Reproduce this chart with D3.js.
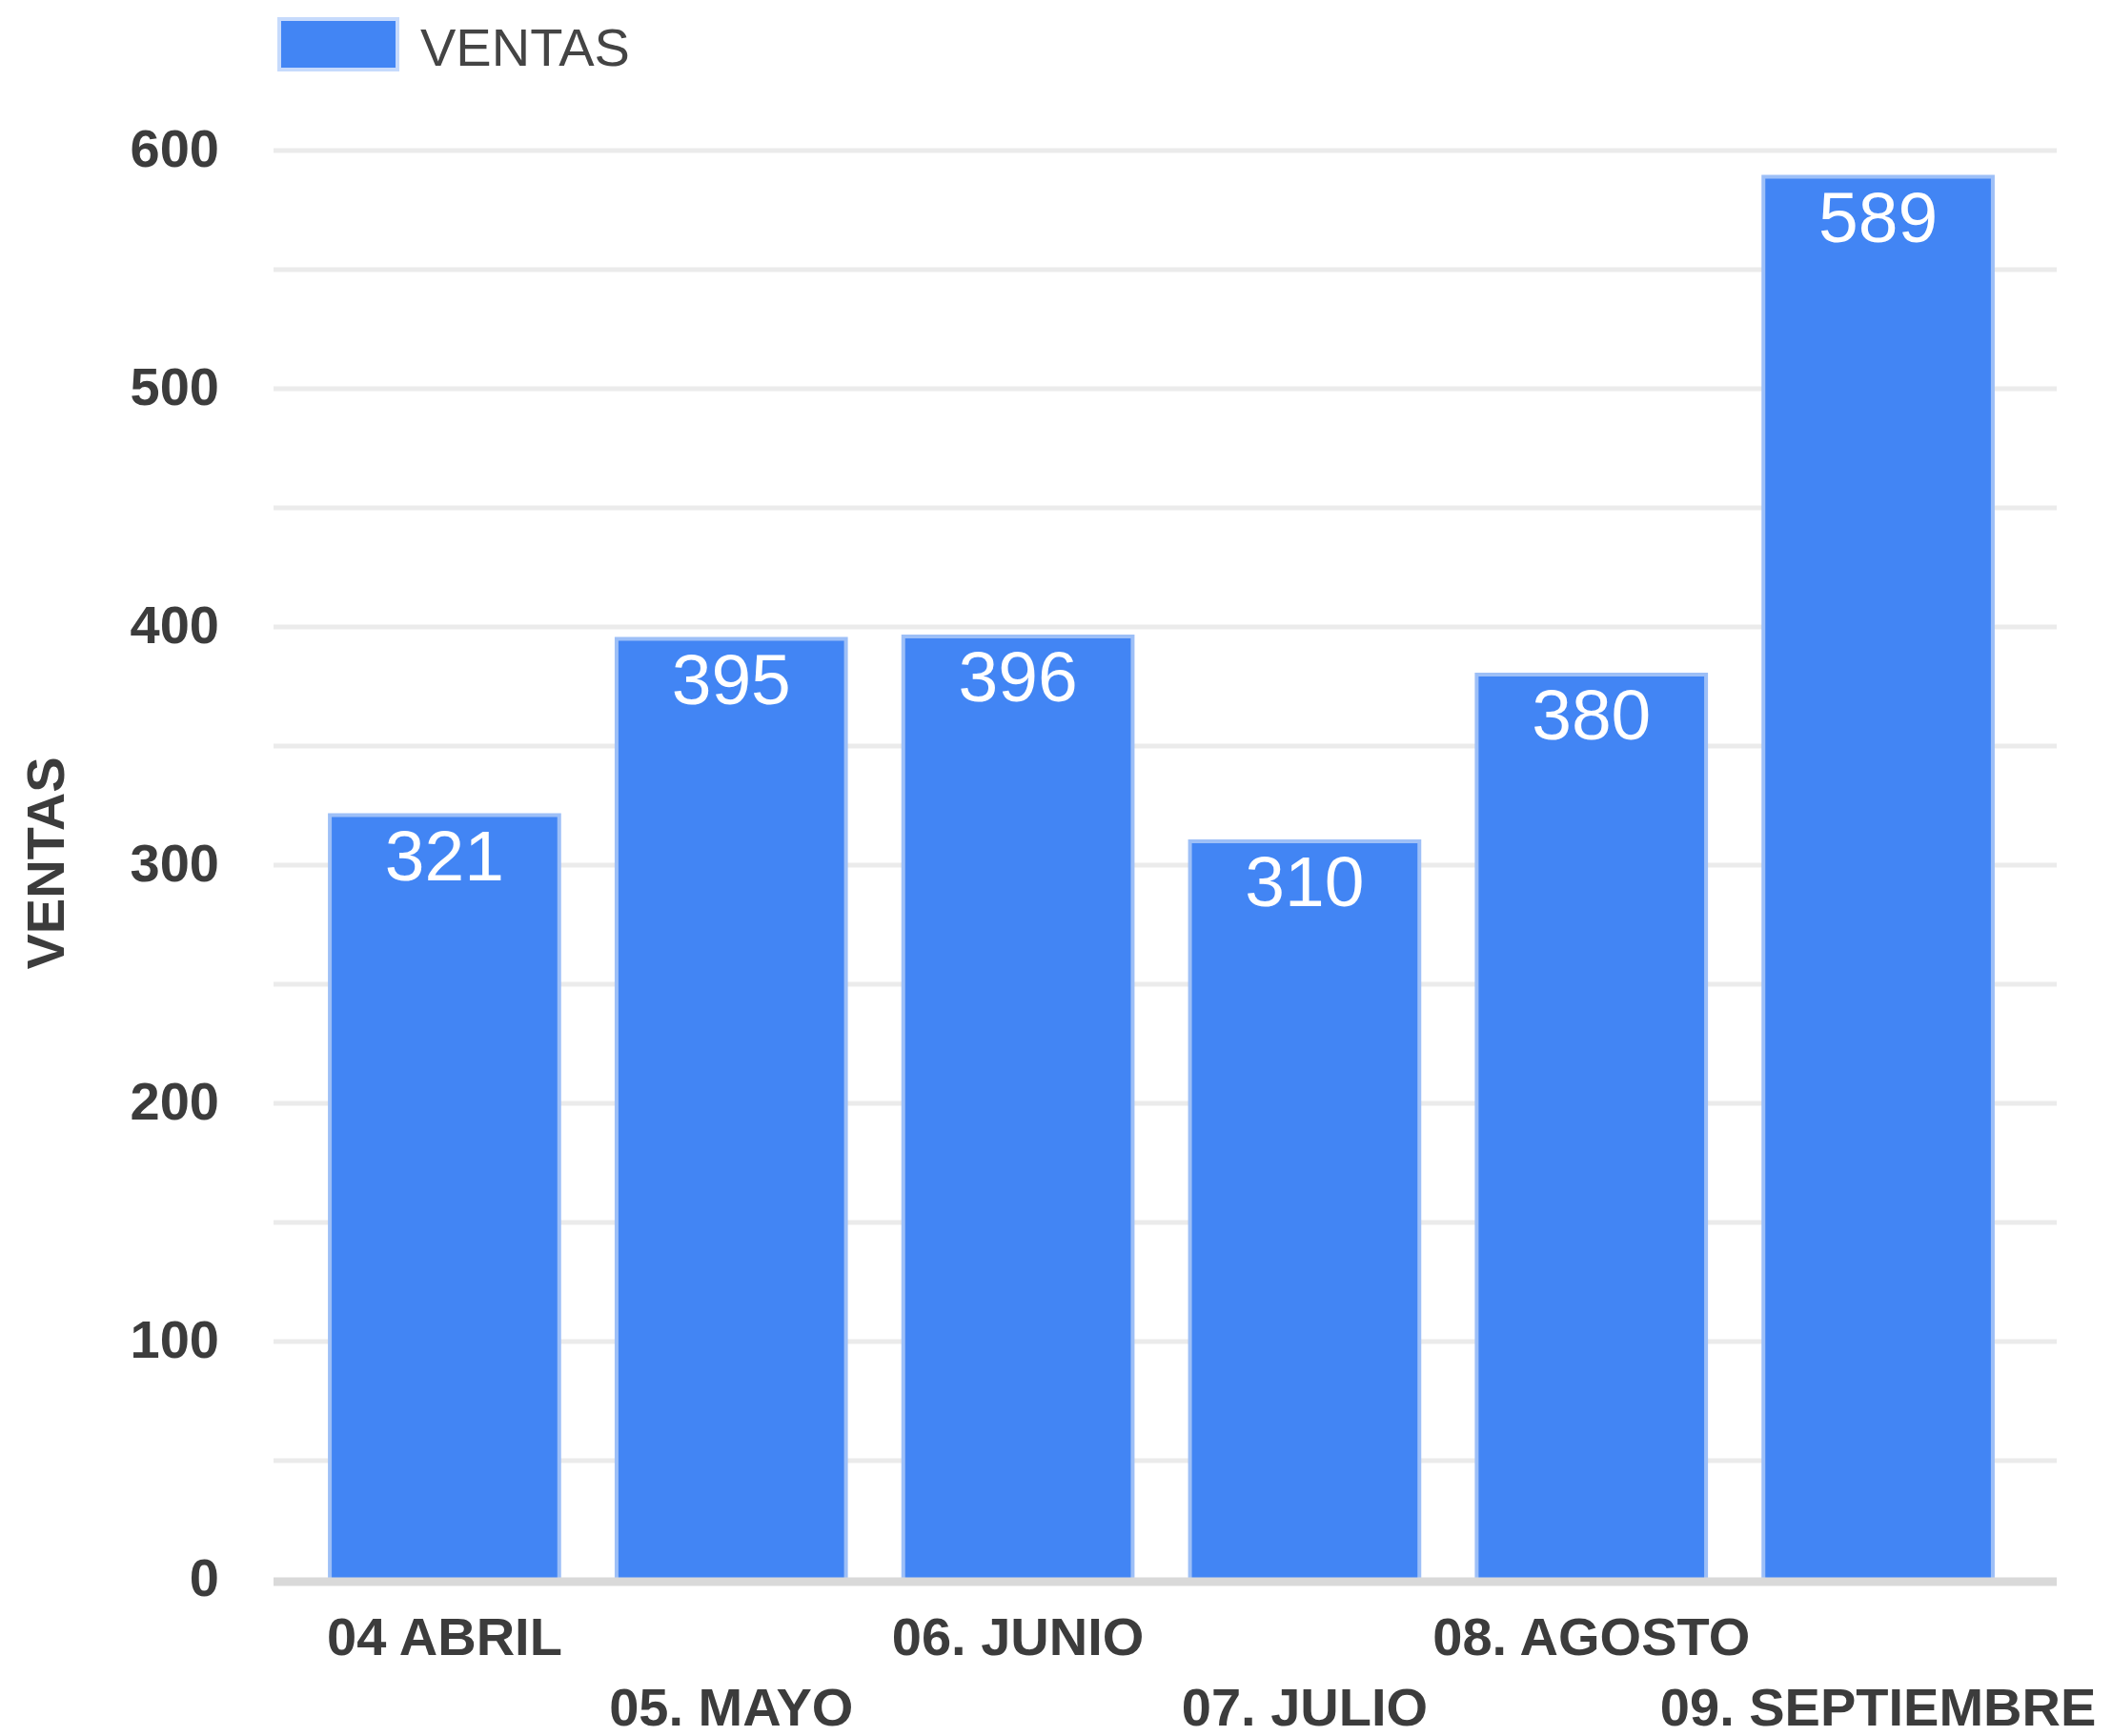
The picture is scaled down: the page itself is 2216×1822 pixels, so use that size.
<!DOCTYPE html>
<html>
<head>
<meta charset="utf-8">
<script src="https://cdn.jsdelivr.net/npm/d3@7"></script>
<style>
  body { margin: 0; background: #fff; }
  svg { display: block; font-family: "Liberation Sans", Arial, sans-serif; }
  .axis path, .axis line { display: none; }
  .x-axis text, .y-axis text { font-size: 56px; font-weight: bold; fill: #3c3c3c; }
</style>
</head>
<body>
<svg id="chart"></svg>
<script>
// data
const months = ['04 ABRIL', '05. MAYO', '06. JUNIO', '07. JULIO', '08. AGOSTO', '09. SEPTIEMBRE'];
const ventas = [321, 395, 396, 310, 380, 589];
const yTicks = [0, 100, 200, 300, 400, 500, 600];
const gridTicks = [0, 50, 100, 150, 200, 250, 300, 350, 400, 450, 500, 550, 600];
const seriesName = 'VENTAS';

const width = 2216, height = 1822;
const gridLeft = 287, gridRight = 2158;

const svg = d3.select('#chart')
    .attr('width', width)
    .attr('height', height);

const xScale = d3.scaleBand()
    .domain(months)
    .range([316, 2121])
    .paddingInner(0.2)
    .paddingOuter(0.1);

const yScale = d3.scaleLinear()
    .domain([0, 600])
    .range([1658, 158]);

// gridlines
svg.append('g')
    .selectAll('line')
    .data(gridTicks.filter(d => d !== 0))
    .join('line')
        .attr('x1', gridLeft)
        .attr('x2', gridRight)
        .attr('y1', d => yScale(d))
        .attr('y2', d => yScale(d))
        .attr('stroke', '#ebebeb')
        .attr('stroke-width', 5);

// bars
const bars = svg.append('g');
bars.selectAll('rect')
    .data(ventas)
    .join('rect')
        .attr('x', (d, i) => xScale(months[i]))
        .attr('width', xScale.bandwidth())
        .attr('y', d => yScale(d))
        .attr('height', d => yScale(0) - yScale(d))
        .attr('fill', '#4285f4')
        .attr('stroke', '#9dbff7')
        .attr('stroke-width', 4);

// baseline
svg.append('line')
    .attr('x1', gridLeft)
    .attr('x2', gridRight)
    .attr('y1', yScale(0) + 2)
    .attr('y2', yScale(0) + 2)
    .attr('stroke', '#d9d9d9')
    .attr('stroke-width', 9);

// value labels inside bars
bars.selectAll('text')
    .data(ventas)
    .join('text')
        .attr('x', (d, i) => xScale(months[i]) + xScale.bandwidth() / 2)
        .attr('y', d => yScale(d) + 68)
        .attr('text-anchor', 'middle')
        .attr('fill', '#fff')
        .style('font-size', '75px')
        .text(d => d);

// y axis labels
const yAxis = d3.axisLeft(yScale)
    .tickValues(yTicks)
    .tickSize(0)
    .tickPadding(0);

svg.append('g')
    .attr('class', 'axis y-axis')
    .attr('transform', 'translate(230,0)')
    .call(yAxis)
    .selectAll('text')
        .attr('dy', '0.3em');

// x axis labels, staggered on two rows
const xAxis = d3.axisBottom(xScale)
    .tickSize(0)
    .tickPadding(0);

svg.append('g')
    .attr('class', 'axis x-axis')
    .call(xAxis)
    .selectAll('text')
        .attr('y', (d, i) => i % 2 === 0 ? 1737 : 1811)
        .attr('dy', 0);

// y axis title
svg.append('text')
    .attr('transform', 'translate(67,906) rotate(-90)')
    .attr('text-anchor', 'middle')
    .style('font-size', '56px')
    .style('font-weight', 'bold')
    .attr('fill', '#3c3c3c')
    .text(seriesName);

// legend
const legend = svg.append('g');
legend.append('rect')
    .attr('x', 293)
    .attr('y', 20)
    .attr('width', 124)
    .attr('height', 53)
    .attr('fill', '#4285f4')
    .attr('stroke', '#c6dafc')
    .attr('stroke-width', 4);
legend.append('text')
    .attr('x', 441)
    .attr('y', 69)
    .style('font-size', '56px')
    .attr('fill', '#444')
    .text(seriesName);
</script>
</body>
</html>
